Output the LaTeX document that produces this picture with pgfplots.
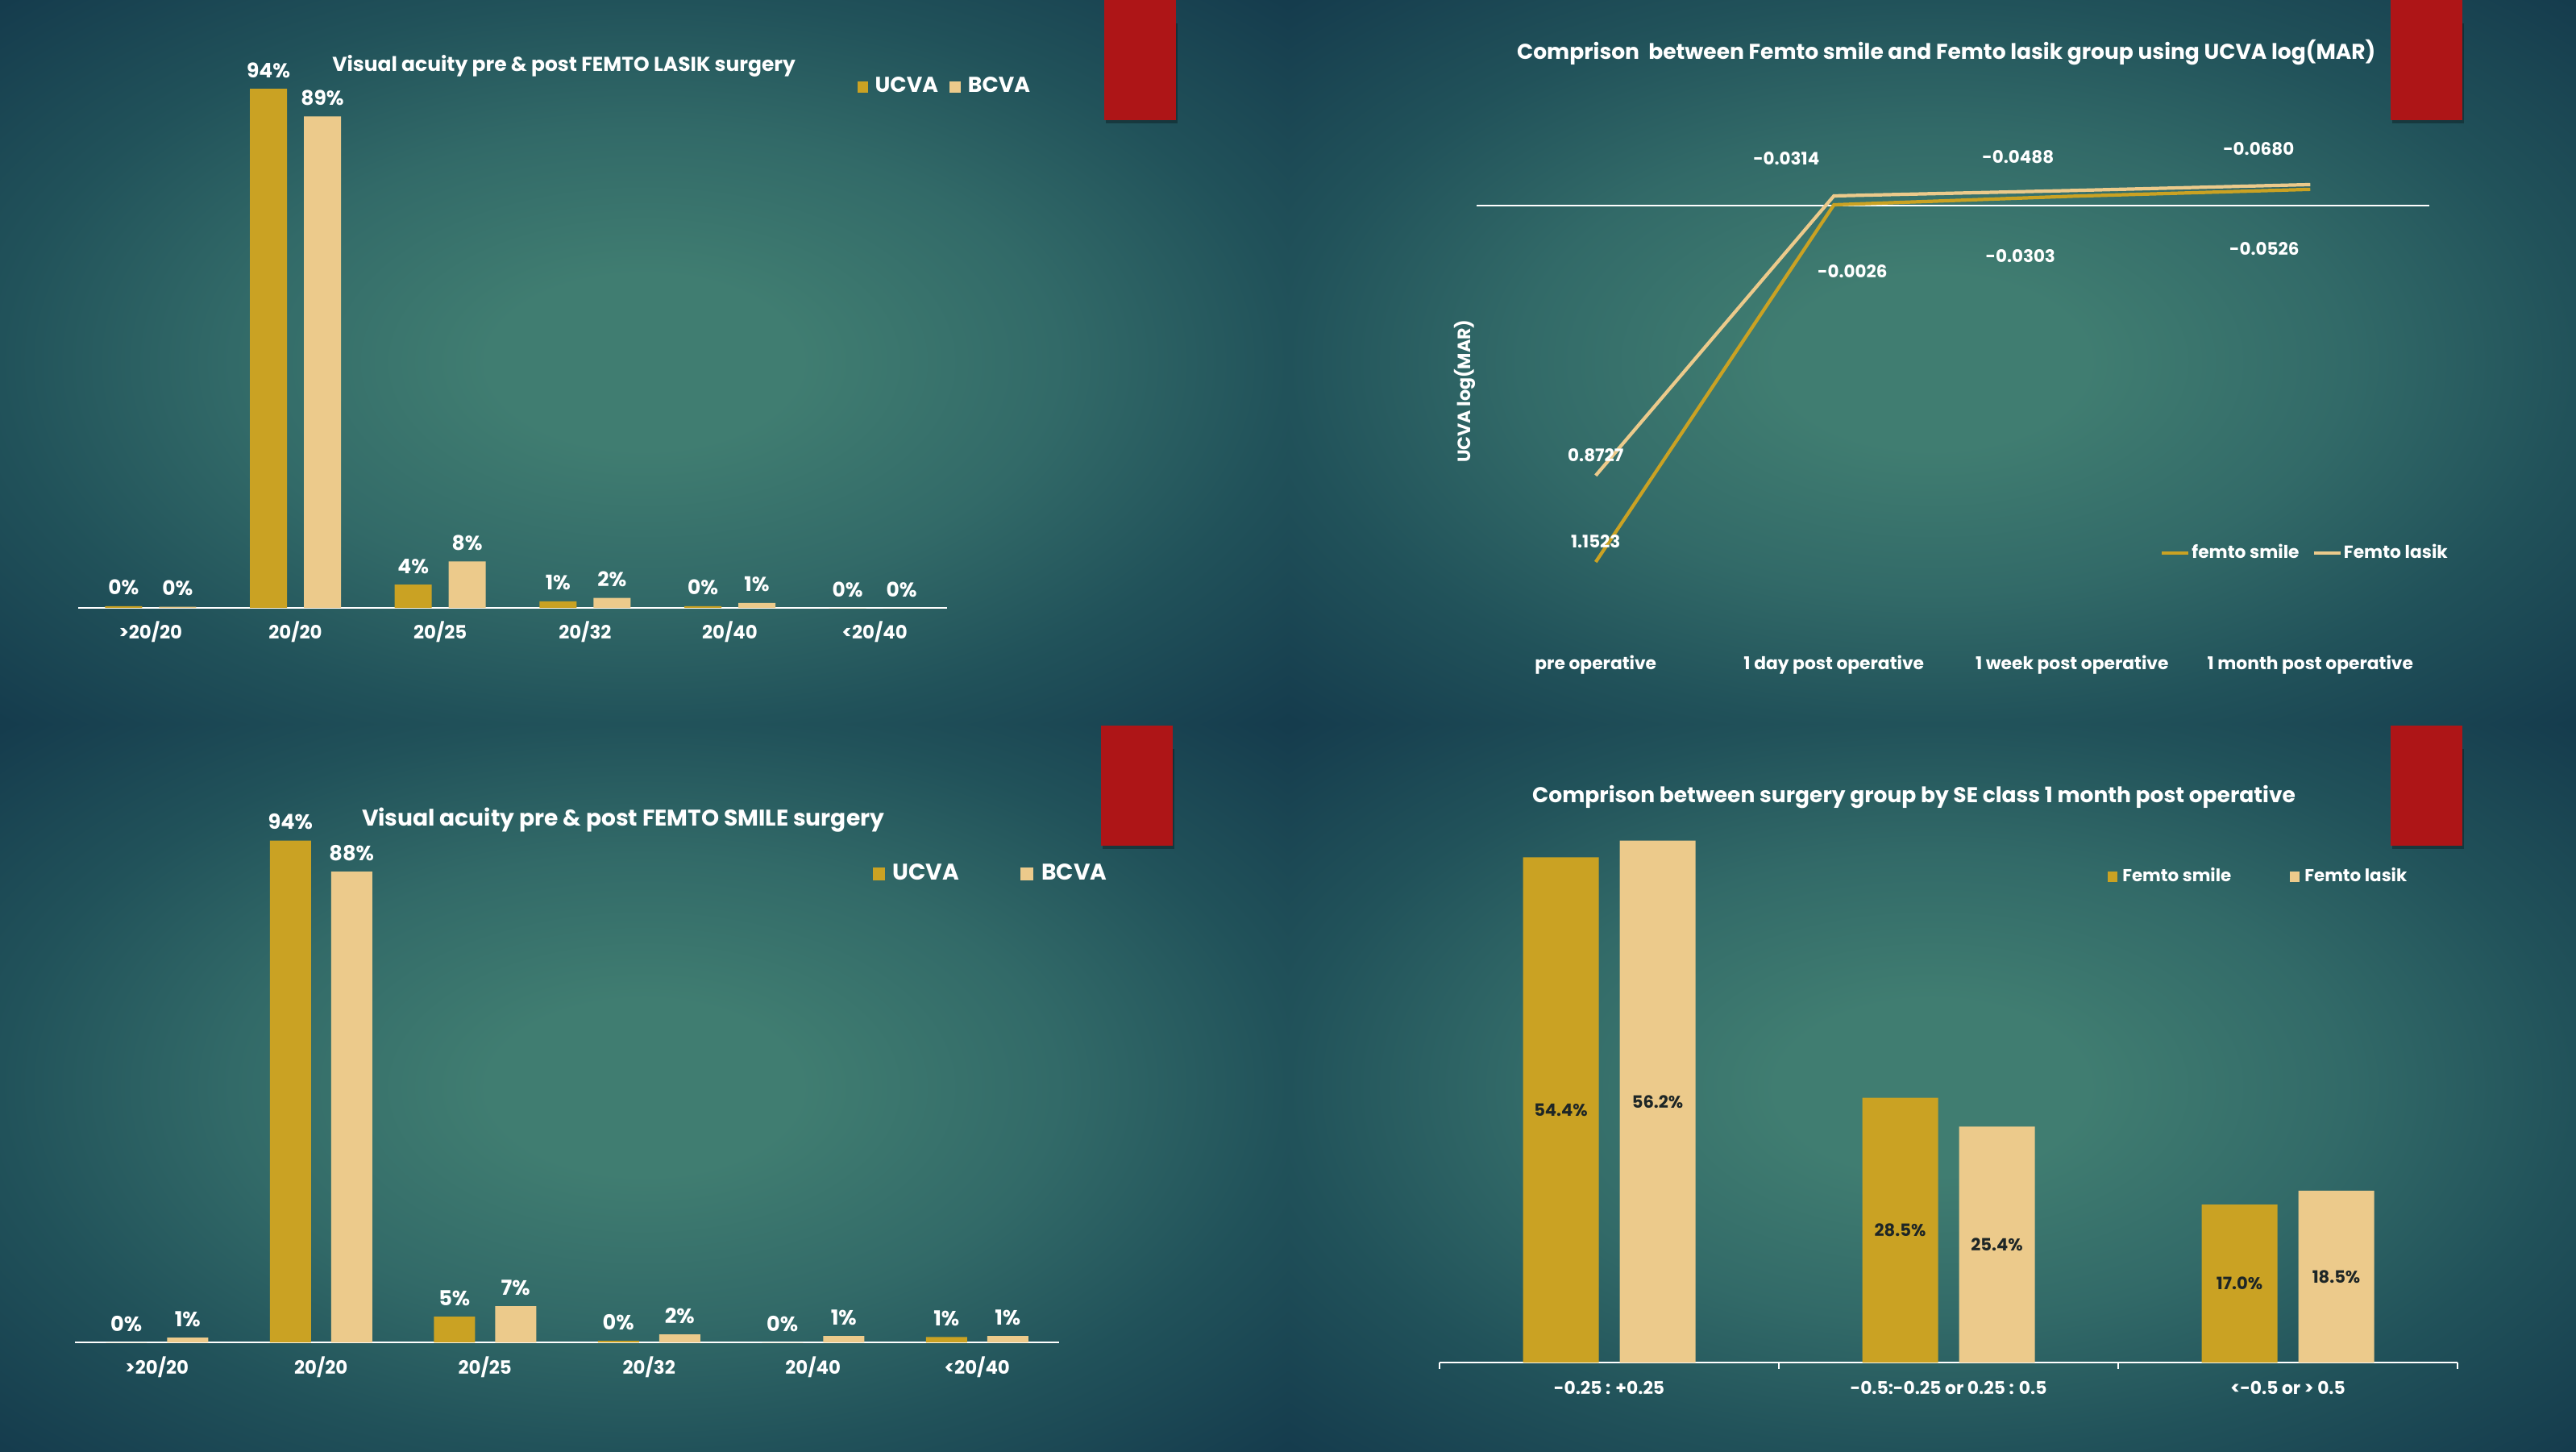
\documentclass[border=0pt]{standalone}
\usepackage{fontspec}
\setmainfont{Poppins}
\usepackage{pgfplots}
\pgfplotsset{compat=1.18}
\usepackage{pgfplotstable}

\definecolor{gold}{RGB}{202,162,35}
\definecolor{sand}{RGB}{236,202,139}
\definecolor{redbar}{RGB}{174,21,23}
\definecolor{bgA}{RGB}{64,125,113}
\definecolor{bgB}{RGB}{50,106,104}
\definecolor{bgC}{RGB}{33,82,90}
\definecolor{bgD}{RGB}{20,58,76}
\definecolor{darklab}{RGB}{30,38,38}

\pgfdeclareradialshading{panelbg}{\pgfpoint{0bp}{0bp}}{color(0bp)=(bgA); color(6bp)=(bgA); color(16bp)=(bgB); color(25bp)=(bgC); color(36bp)=(bgD); color(50bp)=(bgD)}

\newcommand{\fs}[1]{\bfseries\fontsize{#1}{#1}\selectfont}

% ---- data ----
\pgfplotstableread{
x y lab
0 0.3 0
1 94.0 94
2 4.2 4
3 1.2 1
4 0.3 0
5 0 0
}\lasikU
\pgfplotstableread{
x y lab
0 0.2 0
1 89.0 89
2 8.4 8
3 1.8 2
4 0.9 1
5 0 0
}\lasikB
\pgfplotstableread{
x y lab
0 0 0
1 94.0 94
2 4.8 5
3 0.3 0
4 0 0
5 1.0 1
}\smileU
\pgfplotstableread{
x y lab
0 0.9 1
1 88.2 88
2 6.8 7
3 1.5 2
4 1.2 1
5 1.2 1
}\smileB
\pgfplotstableread{
x y lab dx dy
0 1.1523 1.1523 0 0.26
1 -0.0026 -0.0026 0.23 -0.83
2 -0.0303 -0.0303 -0.64 -0.74
3 -0.0526 -0.0526 -0.57 -0.74
}\ucvaSmile
\pgfplotstableread{
x y lab dx dy
0 0.8727 0.8727 0 0.25
1 -0.0314 -0.0314 -0.59 0.46
2 -0.0488 -0.0488 -0.67 0.42
3 -0.0680 -0.0680 -0.64 0.44
}\ucvaLasik
\pgfplotstableread{
x y lab
0 54.4 54.4
1 28.5 28.5
2 17.0 17.0
}\seSmile
\pgfplotstableread{
x y lab
0 56.2 56.2
1 25.4 25.4
2 18.5 18.5
}\seLasik

\begin{document}
\begin{tikzpicture}
\useasboundingbox (0,0) rectangle (31.96,18);
% panel backgrounds
\shade[shading=panelbg] (0,9.02) rectangle (15.98,18);
\shade[shading=panelbg] (15.98,9.02) rectangle (31.96,18);
\shade[shading=panelbg] (0,0) rectangle (15.98,9.02);
\shade[shading=panelbg] (15.98,0) rectangle (31.96,9.02);
% red tabs
\foreach \xa/\ya in {13.70/16.51, 29.66/16.51, 13.66/7.51, 29.66/7.51}{
  \fill[black, opacity=0.3] (\xa+0.02,\ya-0.04) rectangle (\xa+0.91,\ya+1.2);
  \fill[redbar] (\xa,\ya) rectangle (\xa+0.89,\ya+1.49);
}

% ---------- top left ----------
\begin{axis}[
  at={(0.97cm,10.46cm)}, anchor=south west, scale only axis,
  width=10.78cm, height=6.85cm,
  xmin=-0.5, xmax=5.5, ymin=0, ymax=100,
  axis x line*=bottom, axis y line=none,
  x axis line style={white, line width=0.6pt, -},
  xtick={0,...,5}, xticklabels={>20/20,20/20,20/25,20/32,20/40,<20/40},
  major tick length=0pt,
  xticklabel style={font=\fs{6.5}, text=white, anchor=center, yshift=-0.30cm},
  ybar=0.21cm, bar width=0.46cm,
  point meta=explicit symbolic,
  nodes near coords={\pgfplotspointmeta\%},
  every node near coord/.append style={font=\fs{7.1}, text=white, anchor=south, inner sep=0pt, yshift=0.13cm},
  title={Visual acuity pre \& post FEMTO LASIK surgery},
  title style={at={(axis description cs:0.559,0.981)}, anchor=center, yshift=-6pt, font=\fs{7.1}, text=white},
  legend columns=2,
  legend style={at={(axis description cs:0.896,0.943)}, anchor=west, draw=none, fill=none, inner sep=0pt, font=\fs{7.6}, text=white,
    nodes={inner sep=0pt},
    /tikz/every odd column/.append style={column sep=0.09cm},
    /tikz/every even column/.append style={column sep=0.14cm}},
]
\addplot[fill=gold, draw=none, legend image code/.code={\fill[gold] (0cm,-0.07cm) rectangle (0.13cm,0.07cm);}] table[x=x,y=y,meta=lab]{\lasikU};
\addlegendentry{UCVA}
\addplot[fill=sand, draw=none, legend image code/.code={\fill[sand] (0cm,-0.07cm) rectangle (0.14cm,0.07cm);}] table[x=x,y=y,meta=lab]{\lasikB};
\addlegendentry{BCVA}
\end{axis}

% ---------- bottom left ----------
\begin{axis}[
  at={(0.93cm,1.35cm)}, anchor=south west, scale only axis,
  width=12.21cm, height=6.62cm,
  xmin=-0.5, xmax=5.5, ymin=0, ymax=100,
  axis x line*=bottom, axis y line=none,
  x axis line style={white, line width=0.6pt, -},
  xtick={0,...,5}, xticklabels={>20/20,20/20,20/25,20/32,20/40,<20/40},
  major tick length=0pt,
  xticklabel style={font=\fs{6.5}, text=white, anchor=center, yshift=-0.31cm},
  ybar=0.25cm, bar width=0.51cm,
  point meta=explicit symbolic,
  nodes near coords={\pgfplotspointmeta\%},
  every node near coord/.append style={font=\fs{7.3}, text=white, anchor=south, inner sep=0pt, yshift=0.13cm},
  title={Visual acuity pre \& post FEMTO SMILE surgery},
  title style={at={(axis description cs:0.557,0.979)}, anchor=center, yshift=-6pt, font=\fs{8.0}, text=white},
  legend columns=2,
  legend style={at={(axis description cs:0.81,0.878)}, anchor=west, draw=none, fill=none, inner sep=0pt, font=\fs{8.0}, text=white,
    nodes={inner sep=0pt},
    /tikz/every odd column/.append style={column sep=0.10cm},
    /tikz/every even column/.append style={column sep=0.76cm}},
]
\addplot[fill=gold, draw=none, legend image code/.code={\fill[gold] (0cm,-0.08cm) rectangle (0.15cm,0.08cm);}] table[x=x,y=y,meta=lab]{\smileU};
\addlegendentry{UCVA}
\addplot[fill=sand, draw=none, legend image code/.code={\fill[sand] (0cm,-0.08cm) rectangle (0.16cm,0.08cm);}] table[x=x,y=y,meta=lab]{\smileB};
\addlegendentry{BCVA}
\end{axis}

% ---------- top right ----------
\begin{axis}[
  at={(18.32cm,10.079cm)}, anchor=south west, scale only axis,
  width=11.82cm, height=6.138cm,
  xmin=-0.5, xmax=3.5, ymin=-0.2, ymax=1.4, y dir=reverse,
  axis line style={draw=none},
  xtick={0,1,2,3},
  xticklabels={pre operative,1 day post operative,1 week post operative,1 month post operative},
  xticklabel pos=lower,
  xticklabel style={font=\fs{6.2}, text=white, anchor=center, yshift=-0.33cm},
  ytick={0}, yticklabels={}, ymajorgrids, grid style={white, line width=0.6pt},
  major tick length=0pt,
  ylabel={UCVA log(MAR)},
  every axis y label/.style={at={(axis description cs:-0.0127,0.5)}, rotate=90, anchor=center, font=\fs{6.3}, text=white},
  title={Comprison~ between Femto smile and Femto lasik group using UCVA log(MAR)},
  title style={at={(axis description cs:0.493,1.184)}, anchor=center, yshift=-6pt, font=\fs{7.55}, text=white},
  point meta=explicit symbolic,
  nodes near coords={\pgfplotspointmeta},
  visualization depends on={\thisrow{dx}\as\dx},
  visualization depends on={\thisrow{dy}\as\dy},
  every node near coord/.append style={font=\fs{6.1}, text=white, anchor=center, inner sep=0pt, xshift={\dx*1cm}, yshift={\dy*1cm}},
  legend columns=2,
  legend style={at={(axis description cs:0.717,0.173)}, anchor=west, draw=none, fill=none, inner sep=0pt, font=\fs{6.2}, text=white,
    nodes={inner sep=0pt},
    /tikz/every odd column/.append style={column sep=0.02cm},
    /tikz/every even column/.append style={column sep=0.16cm}},
]
\addplot[gold, line width=1.2pt, mark=none, legend image code/.code={\draw[gold, line width=1.2pt] (0cm,0cm) -- (0.33cm,0cm);}] table[x=x,y=y,meta=lab]{\ucvaSmile};
\addlegendentry{femto smile}
\addplot[sand, line width=1.2pt, mark=none, legend image code/.code={\draw[sand, line width=1.2pt] (0cm,0cm) -- (0.33cm,0cm);}] table[x=x,y=y,meta=lab]{\ucvaLasik};
\addlegendentry{Femto lasik}
\end{axis}

% ---------- bottom right ----------
\begin{axis}[
  at={(17.86cm,1.10cm)}, anchor=south west, scale only axis,
  width=12.63cm, height=6.912cm,
  xmin=-0.5, xmax=2.5, ymin=0, ymax=60,
  axis x line*=bottom, axis y line=none,
  x axis line style={white, line width=0.6pt, -},
  xtick={0,1,2}, xticklabels={-0.25 : +0.25,-0.5:-0.25 or 0.25 : 0.5,<-0.5 or > 0.5},
  major tick length=0pt,
  extra x ticks={-0.5,0.5,1.5,2.5}, extra x tick labels={},
  extra x tick style={major tick length=0.08cm, tick align=outside, tick style={white, line width=0.6pt}},
  xticklabel style={font=\fs{6.2}, text=white, anchor=center, yshift=-0.31cm},
  ybar=0.26cm, bar width=0.94cm,
  ylabel={percentage of eyes},
  every axis y label/.style={at={(axis description cs:-0.0103,0.5)}, rotate=90, anchor=center, font=\fs{6.2}, text=white},
  title={Comprison between surgery group by SE class 1 month post operative},
  title style={at={(axis description cs:0.466,1.0145)}, anchor=center, yshift=-6pt, font=\fs{7.55}, text=white},
  point meta=explicit symbolic,
  nodes near coords={\pgfplotspointmeta\%},
  visualization depends on={\thisrow{y}\as\yv},
  every node near coord/.append style={font=\fs{6.0}, text=darklab, anchor=center, inner sep=0pt, yshift={-0.0576cm*\yv}},
  legend columns=2,
  legend style={at={(axis description cs:0.656,0.871)}, anchor=west, draw=none, fill=none, inner sep=0pt, font=\fs{6.1}, text=white,
    nodes={inner sep=0pt},
    /tikz/every odd column/.append style={column sep=0.06cm},
    /tikz/every even column/.append style={column sep=0.73cm}},
]
\addplot[fill=gold, draw=none, legend image code/.code={\fill[gold] (0cm,-0.065cm) rectangle (0.12cm,0.065cm);}] table[x=x,y=y,meta=lab]{\seSmile};
\addlegendentry{Femto smile}
\addplot[fill=sand, draw=none, legend image code/.code={\fill[sand] (0cm,-0.065cm) rectangle (0.12cm,0.065cm);}] table[x=x,y=y,meta=lab]{\seLasik};
\addlegendentry{Femto lasik}
\end{axis}
\end{tikzpicture}
\end{document}
